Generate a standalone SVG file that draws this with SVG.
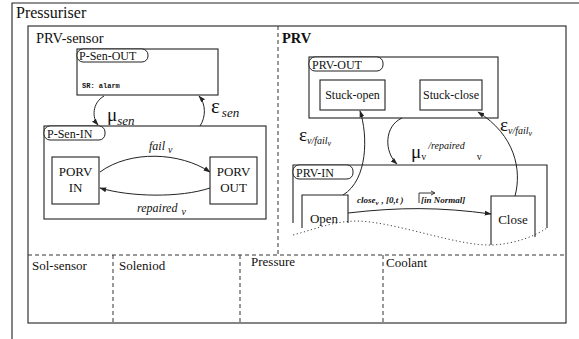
<svg xmlns="http://www.w3.org/2000/svg" width="579" height="339" viewBox="0 0 579 339" font-family="'Liberation Serif', 'DejaVu Serif', serif">
<style>
text{font-family:'Liberation Serif','DejaVu Serif',serif;fill:#111}
.box{fill:none;stroke:#222;stroke-width:1.1}
.dash{fill:none;stroke:#333;stroke-width:1;stroke-dasharray:4,3}
.dot{fill:none;stroke:#444;stroke-width:1;stroke-dasharray:1.2,2.5}
.tag{fill:#fff;stroke:#222;stroke-width:1}
.arr{fill:none;stroke:#222;stroke-width:1;marker-end:url(#ah)}
.lbl{font-size:13px}
.hd{font-size:14.5px}
.tl{font-size:12px}
.it{font-style:italic}
.big{font-size:19px}
.mono{font-family:'Liberation Mono',monospace;font-size:7px;font-weight:bold}
</style>
<defs>
<marker id="ah" viewBox="0 0 10 10" refX="9" refY="5" markerWidth="7" markerHeight="7" orient="auto" markerUnits="userSpaceOnUse">
<path d="M0,1.5 L10,5 L0,8.5 z" fill="#222"/>
</marker>
</defs>
<rect width="579" height="339" fill="#fff"/>

<g id="pressuriser">
<path class="box" d="M579,3 H12 V339"/>
<text x="16" y="18" font-size="16">Pressuriser</text>
<rect class="box" x="28" y="26" width="538" height="297"/>
<line class="dash" x1="278" y1="26" x2="278" y2="255"/>
<line class="dash" x1="28" y1="255" x2="566" y2="255"/>
<line class="dash" x1="113" y1="255" x2="113" y2="323"/>
<line class="dash" x1="240" y1="255" x2="240" y2="323"/>
<line class="dash" x1="383" y1="255" x2="383" y2="323"/>
</g>

<g id="prv-sensor"><text x="36" y="43" class="hd">PRV-sensor</text></g>
<g id="prv"><text x="282" y="43" class="hd" font-weight="bold">PRV</text></g>
<g id="sol-sensor"><text x="32" y="270" class="lbl">Sol-sensor</text></g>
<g id="soleniod"><text x="119" y="270" class="lbl">Soleniod</text></g>
<g id="pressure"><text x="251" y="266" class="lbl">Pressure</text></g>
<g id="coolant"><text x="386" y="267" class="lbl">Coolant</text></g>

<g id="p-sen-out">
<rect class="box" x="77" y="49" width="141" height="46"/>
<rect class="tag" x="77" y="49" width="71" height="13" rx="6"/>
<text x="79" y="60" class="tl">P-Sen-OUT</text>
<text x="82" y="88" class="mono">SR: alarm</text>
</g>

<g id="p-sen-in">
<rect class="box" x="44" y="126" width="222" height="93"/>
<rect class="tag" x="44" y="126" width="61" height="14" rx="6"/>
<text x="47" y="137.5" class="tl">P-Sen-IN</text>
</g>

<g id="porv-in">
<rect class="box" x="52" y="157" width="47" height="47"/>
<text x="75.5" y="176" class="lbl" text-anchor="middle">PORV</text>
<text x="75.5" y="192" class="lbl" text-anchor="middle">IN</text>
</g>
<g id="porv-out">
<rect class="box" x="210" y="157" width="47" height="47"/>
<text x="233.5" y="176" class="lbl" text-anchor="middle">PORV</text>
<text x="233.5" y="192" class="lbl" text-anchor="middle">OUT</text>
</g>

<g id="prv-out">
<rect class="box" x="309" y="57" width="189" height="61"/>
<rect class="tag" x="309" y="57" width="74" height="14" rx="6"/>
<text x="312" y="68.5" class="tl">PRV-OUT</text>
</g>
<g id="stuck-open">
<rect class="box" x="320" y="80" width="65" height="30"/>
<text x="352.5" y="99" font-size="12" text-anchor="middle">Stuck-open</text>
</g>
<g id="stuck-close">
<rect class="box" x="420" y="80" width="62" height="30"/>
<text x="451" y="99" font-size="12" text-anchor="middle">Stuck-close</text>
</g>

<g id="prv-in">
<path class="box" d="M293,223 V165 H547 V228"/>
<path class="dot" d="M293,235 C320,228 340,218 370,222 C410,227 460,246 492,245 C515,244 535,236 547,228"/>
<rect class="tag" x="293" y="165" width="60" height="14" rx="6"/>
<text x="296" y="176.5" class="tl">PRV-IN</text>
</g>
<g id="open">
<path class="box" d="M302,228 V195 H348 V223"/>
<text x="324" y="223" class="lbl" text-anchor="middle">Open</text>
</g>
<g id="close">
<path class="box" d="M491,245 V196 H535 V237"/>
<text x="513" y="224" class="lbl" text-anchor="middle">Close</text>
</g>

<g id="connectors">
<path class="arr" d="M100,172 C130,150 180,152 210,172"/>
<path class="arr" d="M210,188 C180,198 130,197 100,188"/>
<path class="arr" d="M104,96 C92,103 92,118 98,125"/>
<path class="arr" d="M200,126 C206,117 206,104 199,96"/>
<path class="arr" d="M343,195 C368,180 368,135 360,111"/>
<path class="arr" d="M515,196 C522,170 515,135 478,112"/>
<path class="arr" d="M402,118 C384,126 384,152 397,164"/>
<path class="arr" d="M348,213 C400,207 440,207 491,214"/>
</g>

<g id="labels">
<text x="149" y="150" font-size="12" class="it">fail<tspan font-size="10" dx="3" dy="3">v</tspan></text>
<text x="137" y="212" font-size="12" class="it">repaired<tspan font-size="10" dx="4" dy="3">v</tspan></text>
<text x="107" y="121" class="big">μ<tspan font-size="13" class="it" dy="4">sen</tspan></text>
<text x="211" y="113" font-size="21">ε<tspan font-size="13" class="it" dy="4" dx="2">sen</tspan></text>
<text x="299" y="141" font-size="19">ε<tspan font-size="10" class="it" dy="3">v/fail<tspan font-size="8" dy="2">v</tspan></tspan></text>
<text x="500" y="131" font-size="19">ε<tspan font-size="10" class="it" dy="3">v/fail<tspan font-size="8" dy="2">v</tspan></tspan></text>
<text x="411" y="158" class="big">μ<tspan font-size="10" dy="2">v</tspan><tspan font-size="10" class="it" dy="-11" dx="2">/repaired</tspan><tspan font-size="10" dx="12" dy="11">v</tspan></text>
<text x="357" y="203" font-size="9" font-style="italic" font-weight="bold">close<tspan font-size="7" dy="2">v</tspan><tspan dy="-2" dx="3">, [0,t )</tspan></text>
<text x="421" y="203" font-size="9" font-style="italic" font-weight="bold">[in Normal]</text>
<path d="M419,203 V193 H434 M431,191 L435,193 L431,195" fill="none" stroke="#222" stroke-width="0.9"/>
</g>
</svg>
